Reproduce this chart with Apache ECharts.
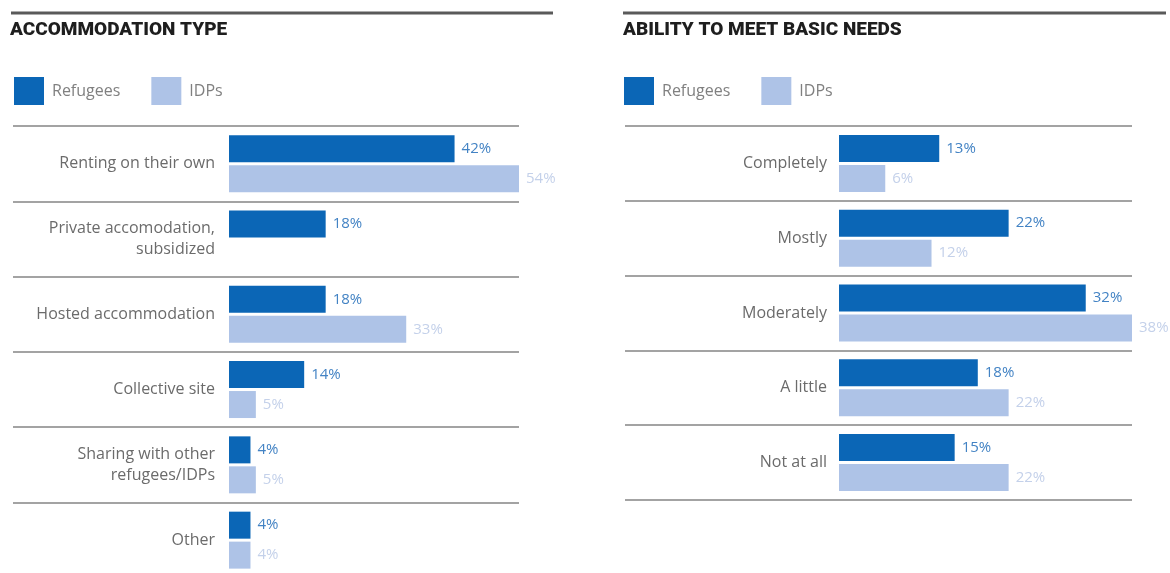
<!DOCTYPE html>
<html>
<head>
<meta charset="utf-8">
<script src="https://cdn.jsdelivr.net/npm/echarts@6/dist/echarts.min.js"></script>
<style>
  html, body { margin: 0; padding: 0; background: #ffffff; }
  #chart { width: 1170px; height: 573px; }
</style>
</head>
<body>
<div id="chart"></div>
<script>
// Accommodation type (%)
const accomCategories = ['Renting on their own', 'Private accomodation,\nsubsidized', 'Hosted accommodation',
  'Collective site', 'Sharing with other\nrefugees/IDPs', 'Other'];
const accomRefugees = [42, 18, 18, 14, 4, 4];
const accomIDPs = [54, null, 33, 5, 5, 4];

// Ability to meet basic needs (%)
const needsCategories = ['Completely', 'Mostly', 'Moderately', 'A little', 'Not at all'];
const needsRefugees = [13, 22, 32, 18, 15];
const needsIDPs = [6, 12, 38, 22, 22];

const seriesNames = ['Refugees', 'IDPs'];
const panelTitles = ['ACCOMMODATION TYPE', 'ABILITY TO MEET BASIC NEEDS'];

const DARK = '#0b66b6';
const LIGHT = '#aec3e7';
const TITLE_FONT = 'Roboto, sans-serif';
const FONT = '"Open Sans", Roboto, sans-serif';

// Each panel: the grid spans label column + bar column so that the row
// separators run under the labels too; the value axis starts below zero
// by the width of the label column, and the category labels are placed
// inside the grid, right-aligned just before the bars.
const panels = [
  { left: 13, width: 506, labelSpace: 216, labelGap: 14, top: 126, rowH: 75.3,
    cats: accomCategories, a: accomRefugees, b: accomIDPs },
  { left: 625, width: 507, labelSpace: 214, labelGap: 12, top: 126, rowH: 74.8,
    cats: needsCategories, a: needsRefugees, b: needsIDPs }
];

const grids = [], xAxes = [], yAxes = [], series = [];
panels.forEach((p, i) => {
  const maxVal = Math.max(...p.a.filter(v => v != null), ...p.b.filter(v => v != null));
  const barSpace = p.width - p.labelSpace;
  grids.push({
    left: p.left, top: p.top, width: p.width, height: p.rowH * p.cats.length,
    containLabel: false, outerBoundsMode: 'none'
  });
  xAxes.push({
    type: 'value', gridIndex: i,
    min: -maxVal * p.labelSpace / barSpace, max: maxVal,
    axisLine: { show: false }, axisTick: { show: false },
    axisLabel: { show: false }, splitLine: { show: false }
  });
  yAxes.push({
    type: 'category', gridIndex: i, inverse: true, data: p.cats,
    axisLine: { show: false },
    axisTick: { show: false },
    axisLabel: {
      inside: true, align: 'right', margin: p.labelSpace - p.labelGap,
      color: '#6b6b6b', fontSize: 16, lineHeight: 21, fontFamily: FONT
    },
    splitLine: { show: true, lineStyle: { color: '#a3a3a3', width: 2 } }
  });
  [p.a, p.b].forEach((vals, k) => {
    series.push({
      name: seriesNames[k], type: 'bar', xAxisIndex: i, yAxisIndex: i,
      data: vals, barWidth: 27, barGap: '11%', clip: false,
      itemStyle: { color: k === 0 ? DARK : LIGHT },
      label: {
        show: true, position: 'right', distance: 7, formatter: '{c}%',
        color: k === 0 ? '#4383c4' : '#c4d1ea', fontSize: 15, fontFamily: FONT
      }
    });
  });
});

const chart = echarts.init(document.getElementById('chart'), null, { renderer: 'canvas' });
chart.setOption({
  animation: false,
  backgroundColor: '#ffffff',
  title: panelTitles.map((t, i) => ({
    text: t, left: i === 0 ? 10 : 623, top: 21, padding: 0,
    textStyle: { fontFamily: TITLE_FONT, fontSize: 19, fontWeight: 900, color: '#1e1e1e' }
  })),
  legend: [0, 1].map(i => ({
    data: seriesNames, left: i === 0 ? 14 : 624, top: 77, padding: 0,
    icon: 'rect', itemWidth: 30, itemHeight: 28, itemGap: 31,
    textStyle: { color: '#808080', fontSize: 16, fontFamily: FONT, padding: [0, 0, 0, 3] },
    selectedMode: false
  })),
  graphic: [
    { type: 'line', shape: { x1: 11, y1: 13, x2: 553, y2: 13 }, style: { stroke: '#5a5a5a', lineWidth: 3 } },
    { type: 'line', shape: { x1: 623, y1: 13, x2: 1166, y2: 13 }, style: { stroke: '#5a5a5a', lineWidth: 3 } }
  ],
  grid: grids,
  xAxis: xAxes,
  yAxis: yAxes,
  series: series
});
</script>
</body>
</html>
